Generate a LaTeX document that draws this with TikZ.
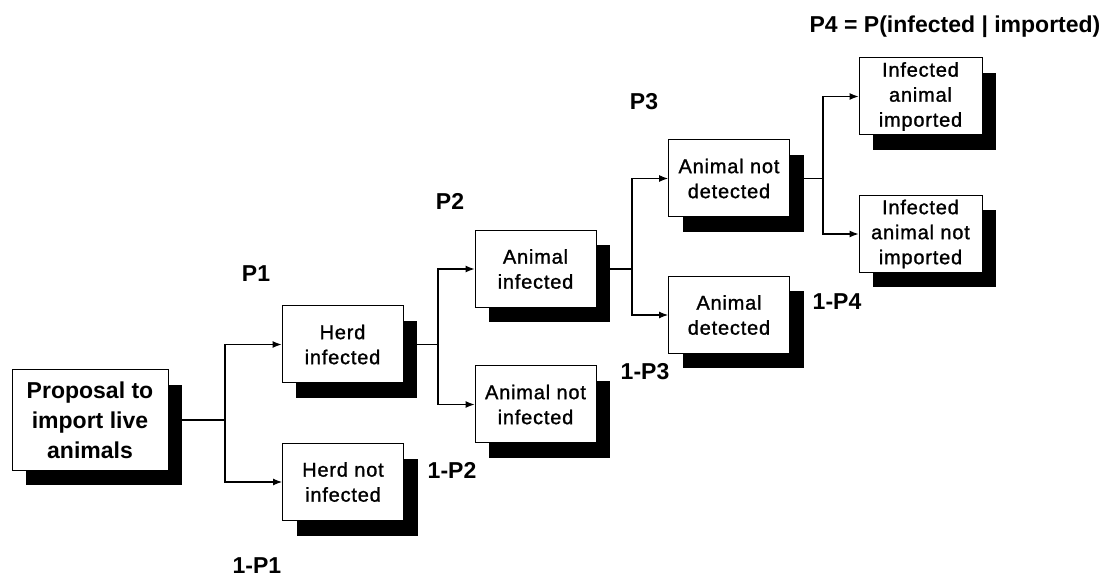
\documentclass[tikz,border=0pt]{standalone}
\usepackage{fontspec}
\setmainfont{Liberation Sans}
\newfontfamily\boxfont[LetterSpace=4,FakeBold=1.2]{Liberation Sans}
\usetikzlibrary{arrows.meta,shadows}
\begin{document}
\begin{tikzpicture}[x=1pt,y=-1pt,
  box/.style={draw=black,line width=1pt,fill=white,inner sep=0pt,
    minimum width=121pt,minimum height=77pt,align=center,
    font=\boxfont\fontsize{20}{25}\selectfont,
    drop shadow={shadow xshift=14pt,shadow yshift=-15pt,fill=black,opacity=1}},
  bigbox/.style={box,minimum width=156pt,minimum height=100pt,
    font=\fontsize{23}{30}\selectfont\bfseries},
  prob/.style={font=\fontsize{23}{28}\selectfont\bfseries,inner sep=0pt},
  link/.style={line width=1.1pt},
  arr/.style={link,-{Latex[length=9pt,width=7pt]}}]
\useasboundingbox (0,0) rectangle (1112,577);

% decision stages
\node[bigbox] (prop)    at (90,420)    {Proposal to\\import live\\animals};
\node[box]    (herd)    at (342.5,344.5) {Herd\\infected};
\node[box]    (herdno)  at (343,482)   {Herd not\\infected};
\node[box]    (ainf)    at (535.5,269) {Animal\\infected};
\node[box]    (anoinf)  at (535.5,404.5) {Animal not\\infected};
\node[box]    (anodet)  at (729,178.5) {Animal not\\detected};
\node[box]    (adet)    at (729,315)   {Animal\\detected};
\node[box,minimum width=123pt] (imp)   at (920.5,96.5) {Infected\\animal\\imported};
\node[box,minimum width=123pt] (noimp) at (920.5,234)  {Infected\\animal not\\imported};

% branch points
\coordinate (s1) at (225,420);
\coordinate (s2) at (438,344.5);
\coordinate (s3) at (632,269);
\coordinate (s4) at (823,178.5);

\draw[link] (prop.east) -- (s1);
\draw[arr] (s1) |- (herd.west);
\draw[arr] (s1) |- (herdno.west);
\draw[link] (herd.east) -- (s2);
\draw[arr] (s2) |- (ainf.west);
\draw[arr] (s2) |- (anoinf.west);
\draw[link] (ainf.east) -- (s3);
\draw[arr] (s3) |- (anodet.west);
\draw[arr] (s3) |- (adet.west);
\draw[link] (anodet.east) -- (s4);
\draw[arr] (s4) |- (imp.west);
\draw[arr] (s4) |- (noimp.west);

% branch probabilities
\node[prob] (p1)  at (256,274) {P1};
\node[prob] (q1)  at (257,566) {1-P1};
\node[prob] (p2)  at (450,201) {P2};
\node[prob] (q2)  at (452,470) {1-P2};
\node[prob] (p3)  at (644,102) {P3};
\node[prob] (q3)  at (645,372) {1-P3};
\node[prob] (q4)  at (837,302) {1-P4};
\node[prob] (p4)  at (955,27)  {P4 = P(infected | imported)};
\end{tikzpicture}
\end{document}
